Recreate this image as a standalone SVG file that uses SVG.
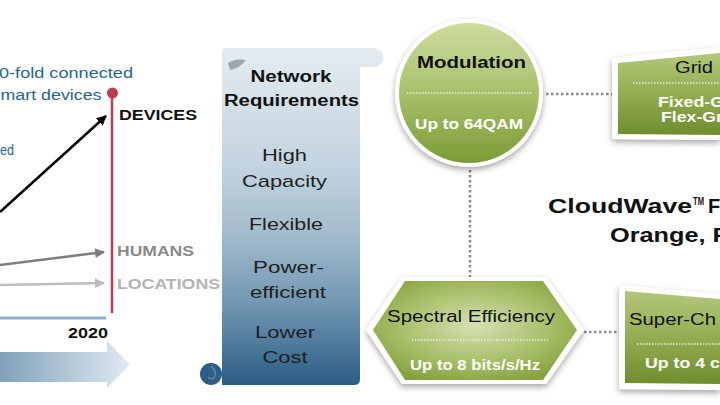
<svg xmlns="http://www.w3.org/2000/svg" width="720" height="405" viewBox="0 0 720 405">
<defs>
<style>
text{font-family:"Liberation Sans",Arial,sans-serif}
.blue{fill:#2a6496;font-size:14px}
.cat{font-weight:bold;font-size:15px}
.req{fill:#1e1e1e;font-size:17px;text-anchor:middle}
.reqh{fill:#111;font-size:16px;font-weight:bold;text-anchor:middle}
.hd{fill:#111;font-size:16px}
.hdb{fill:#111;font-size:16px;font-weight:bold}
.val{fill:#fff;font-size:14px;font-weight:bold}
.cw{fill:#111;font-size:20px;font-weight:bold}
.dots{stroke:#8c8c8c;stroke-width:2.5;stroke-dasharray:2.5 2.5;fill:none}
.sep{stroke:#e8eedb;stroke-width:1.3;stroke-dasharray:1.5 1.5;fill:none}
.rim{fill:#fff}
</style>
<linearGradient id="gArrow" x1="0" y1="0" x2="1" y2="0">
<stop offset="0" stop-color="#7fa2bb"/><stop offset="1" stop-color="#e1eaf1"/>
</linearGradient>
<linearGradient id="gScroll" x1="0" y1="48" x2="0" y2="385" gradientUnits="userSpaceOnUse">
<stop offset="0" stop-color="#e4ecf1"/><stop offset="0.35" stop-color="#c3d3df"/><stop offset="0.55" stop-color="#a3bccd"/><stop offset="0.75" stop-color="#7499b4"/><stop offset="1" stop-color="#2b5d85"/>
</linearGradient>
<linearGradient id="gGreen" x1="0" y1="0" x2="0" y2="1">
<stop offset="0" stop-color="#cddc9f"/><stop offset="0.5" stop-color="#a9c06a"/><stop offset="1" stop-color="#7c9b36"/>
</linearGradient>
<radialGradient id="gHex" cx="0.5" cy="0.45" r="0.6">
<stop offset="0" stop-color="#d6e0b3"/><stop offset="0.6" stop-color="#a9bf6a"/><stop offset="1" stop-color="#86a23e"/>
</radialGradient>
<linearGradient id="gBox" x1="0" y1="0" x2="0" y2="1">
<stop offset="0" stop-color="#b3c77c"/><stop offset="0.5" stop-color="#93ad50"/><stop offset="1" stop-color="#6f8d2d"/>
</linearGradient>
<marker id="ahB" viewBox="0 0 10 10" refX="9" refY="5" markerWidth="4" markerHeight="4" orient="auto"><path d="M0,0 L10,5 L0,10 z" fill="#000"/></marker>
<marker id="ahG" viewBox="0 0 10 10" refX="9" refY="5" markerWidth="4" markerHeight="4" orient="auto"><path d="M0,0 L10,5 L0,10 z" fill="#7f7f7f"/></marker>
<marker id="ahL" viewBox="0 0 10 10" refX="9" refY="5" markerWidth="4" markerHeight="4" orient="auto"><path d="M0,0 L10,5 L0,10 z" fill="#bdbdbd"/></marker>
<filter id="sh" x="-20%" y="-20%" width="140%" height="150%"><feDropShadow dx="0" dy="3" stdDeviation="3" flood-color="#000" flood-opacity="0.35"/></filter>
</defs>
<rect width="720" height="405" fill="#fff"/>

<g id="chart">
<text class="blue" x="-1" y="78" textLength="134" lengthAdjust="spacingAndGlyphs">0-fold connected</text>
<text class="blue" x="0.5" y="100" textLength="101" lengthAdjust="spacingAndGlyphs">mart devices</text>
<text class="blue" x="0" y="155" textLength="14" lengthAdjust="spacingAndGlyphs">ed</text>
<line x1="112" y1="93" x2="112" y2="313" stroke="#c0394f" stroke-width="2.5"/>
<circle cx="112.5" cy="93" r="5.5" fill="#c0394f"/>
<text class="cat" x="119" y="120" fill="#111" textLength="78" lengthAdjust="spacingAndGlyphs">DEVICES</text>
<text class="cat" x="117" y="256" fill="#8a8a8a" textLength="77" lengthAdjust="spacingAndGlyphs">HUMANS</text>
<text class="cat" x="117" y="289" fill="#b3b3b3" textLength="103" lengthAdjust="spacingAndGlyphs">LOCATIONS</text>
<line x1="0" y1="318" x2="106" y2="318" stroke="#8db0cc" stroke-width="3"/>
<text class="cat" x="68" y="338" fill="#111" textLength="40" lengthAdjust="spacingAndGlyphs">2020</text>
<path d="M0,352 H107 V341 L130,364.5 L107,388 V382 H0 Z" fill="url(#gArrow)"/>
</g>

<g id="connectors">
<line x1="0" y1="212" x2="106" y2="116" stroke="#000" stroke-width="2.5" marker-end="url(#ahB)"/>
<line x1="0" y1="265" x2="104" y2="252" stroke="#7f7f7f" stroke-width="2.5" marker-end="url(#ahG)"/>
<line x1="0" y1="285" x2="104" y2="283" stroke="#bdbdbd" stroke-width="2.5" marker-end="url(#ahL)"/>
<line class="dots" x1="546" y1="94" x2="612" y2="94"/>
<line class="dots" x1="470" y1="170" x2="470" y2="277"/>
<line class="dots" x1="584" y1="332" x2="618" y2="332"/>
</g>

<g id="requirements">
<path d="M226,48 H374 A9.5,9.5 0 0 1 374,67 H360 V379 Q360,385 354,385 H222 V52 Q222,48 226,48 Z" fill="url(#gScroll)"/>
<path d="M228,63 Q236,58 246,60 Q240,68 230,70 Z" fill="#9aa7b0"/>
<circle cx="211" cy="374" r="11" fill="#2d5e86"/>
<path d="M211,366 Q218,372 214,378 Q210,380 208,377" fill="none" stroke="#6a92b0" stroke-width="1.2"/>
<text class="reqh" x="291" y="82" textLength="81" lengthAdjust="spacingAndGlyphs">Network</text>
<text class="reqh" x="291.5" y="106" textLength="135" lengthAdjust="spacingAndGlyphs">Requirements</text>
<text class="req" x="284.5" y="161" textLength="45" lengthAdjust="spacingAndGlyphs">High</text>
<text class="req" x="284.5" y="187" textLength="85" lengthAdjust="spacingAndGlyphs">Capacity</text>
<text class="req" x="286" y="230" textLength="74" lengthAdjust="spacingAndGlyphs">Flexible</text>
<text class="req" x="288.5" y="273" textLength="71" lengthAdjust="spacingAndGlyphs">Power-</text>
<text class="req" x="288" y="298" textLength="76" lengthAdjust="spacingAndGlyphs">efficient</text>
<text class="req" x="285" y="338" textLength="60" lengthAdjust="spacingAndGlyphs">Lower</text>
<text class="req" x="285" y="363" textLength="45" lengthAdjust="spacingAndGlyphs">Cost</text>
</g>

<g id="modulation">
<circle class="rim" cx="469" cy="93" r="74" filter="url(#sh)"/>
<circle cx="469" cy="93" r="70" fill="url(#gGreen)"/>
<text class="hdb" x="417" y="68" textLength="109" lengthAdjust="spacingAndGlyphs">Modulation</text>
<line class="sep" x1="407" y1="93" x2="533" y2="93"/>
<text class="val" x="415" y="129" textLength="108" lengthAdjust="spacingAndGlyphs">Up to 64QAM</text>
</g>

<g id="grid">
<polygon class="rim" points="612,58 720,47 720,140 612,139" filter="url(#sh)"/>
<polygon points="618,63 720,53 720,135 618,134" fill="url(#gBox)"/>
<text class="hd" x="675" y="73" textLength="38" lengthAdjust="spacingAndGlyphs">Grid</text>
<line class="sep" x1="633" y1="83" x2="720" y2="83"/>
<text class="val" x="658" y="107" textLength="66" lengthAdjust="spacingAndGlyphs">Fixed-G</text>
<text class="val" x="661" y="122" textLength="62" lengthAdjust="spacingAndGlyphs">Flex-Gr</text>
</g>

<g id="cloudwave">
<text class="cw" x="548" y="213" textLength="144" lengthAdjust="spacingAndGlyphs">CloudWave</text>
<text class="cw" x="693" y="205" style="font-size:10px" textLength="11" lengthAdjust="spacingAndGlyphs">TM</text>
<text class="cw" x="708" y="213">F</text>
<text class="cw" x="610" y="242" textLength="118" lengthAdjust="spacingAndGlyphs">Orange, F</text>
</g>

<g id="spectral">
<polygon class="rim" points="366,330 402,277 546,277 584,330 546,384 402,384" filter="url(#sh)"/>
<polygon points="373,330 405,281 543,281 577,330 543,380 405,380" fill="url(#gHex)"/>
<text class="hd" x="387" y="322" textLength="168" lengthAdjust="spacingAndGlyphs">Spectral Efficiency</text>
<line class="sep" x1="412" y1="340" x2="548" y2="340"/>
<text class="val" x="410" y="370" textLength="130" lengthAdjust="spacingAndGlyphs">Up to 8 bits/s/Hz</text>
</g>

<g id="superchannel">
<polygon class="rim" points="619,285 720,294 720,390 619,389" filter="url(#sh)"/>
<polygon points="625,291 720,299 720,384 625,383" fill="url(#gBox)"/>
<text class="hd" x="629" y="325" textLength="87" lengthAdjust="spacingAndGlyphs">Super-Ch</text>
<line class="sep" x1="637" y1="344" x2="720" y2="344"/>
<text class="val" x="645" y="368" textLength="75" lengthAdjust="spacingAndGlyphs">Up to 4 c</text>
</g>
</svg>
